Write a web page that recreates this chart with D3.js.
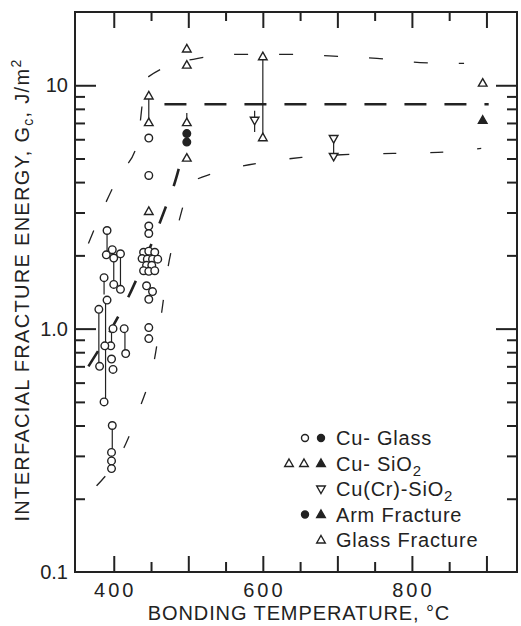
<!DOCTYPE html>
<html>
<head>
<meta charset="utf-8">
<script src="https://cdn.jsdelivr.net/npm/d3@7"></script>
<style>
  body { margin: 0; background: #fff; }
  svg { font-family: "Liberation Sans", Arial, sans-serif; fill: #222; }
</style>
</head>
<body>
<svg id="chart" width="521" height="626"></svg>
<script>
// values: [temperature C, Gc J/m2]
let cuGlassOpen = [
  [391,2.53],[398,2.11],[390,2.01],[400,1.95],[409,2.03],[387,1.62],[400,1.52],[409,1.45],
  [391,1.31],[380,1.20],[399,1.00],[414,1.00],[396,0.85],[388,0.85],[397,0.75],[381,0.70],
  [399,0.68],[416,0.79],[387,0.50],[398,0.40],[397,0.31],[397,0.286],[397,0.266],
  [447,6.07],[447,4.26],[447,2.64],[447,2.46],
  [440,2.06],[447,2.08],[455,2.06],[438,1.94],[445,1.93],[452,1.93],[459,1.93],
  [444,1.82],[451,1.82],[440,1.73],[447,1.72],[455,1.73],
  [444,1.50],[452,1.42],[447,1.32],[447,1.01],[447,0.91]
]
let cuGlassFilled = [[498,6.33],[498,5.84]]
let triOpen = [[447,9.04],[447,7.02],[447,3.03],[498,14.1],[498,12.1],[498,7.02],[498,5.02],
  [600,13.1],[600,6.09],[895,10.2]]
let triFilled = [[895,7.18]]
let triDown = [[589,7.18],[695,6.04],[695,5.10]]

// vertical range bars: [temperature, low, high]
let ranges = [[391,2.01,2.53],[400,1.52,1.95],[409,1.45,2.03],[387,1.38,1.62],[389,0.50,1.31],
  [380,0.70,1.20],[398,0.31,0.40],[397,0.85,1.0],[415,0.79,1.0],[447,7.02,9.04],
  [498,7.02,7.7],[589,6.43,7.85],[600,6.09,13.1],[695,5.10,6.04]]

// dashed bands
let upperBand = [[366,2.24],[384,3.03],[407,4.26],[431,5.66],[444,10.7],[513,12.9],[572,13.4],
  [630,13.4],[689,13.2],[753,12.9],[811,12.4],[870,12.3]]
let lowerBand = [[377,0.226],[416,0.336],[435,0.473],[455,0.76],[464,1.15],[472,1.73],[485,2.58],
  [506,3.99],[534,4.35],[591,4.77],[652,5.05],[717,5.2],[775,5.25],[835,5.3],[893,5.5]]
let meanRise = [[366,0.70],[423,1.42],[468,3.06],[484,4.18],[492,5.2]]
let meanFlat = [[468,8.35],[903,8.35]]

let xMajor = [400,500,600,700,800,900]
let xMinor = [450,550,650,750,850]
let xLabels = [400,600,800]
let yMajor = [1,10]
let yMinor = [0.2,0.3,0.4,0.5,0.6,0.7,0.8,0.9,2,3,4,5,6,7,8,9]
let yLabels = [[10,'10'],[1,'1.0'],[0.1,'0.1']]

let svg = d3.select('#chart')
let L = 75, R = 517, T = 12, B = 572

let x = d3.scaleLinear().domain([348,941]).range([L,R])
let y = d3.scaleLog().domain([0.1,20]).range([B,T])

let ink = '#222'

// ticks, all pointing inward
let tick = (g, axis) => { g.call(axis); g.select('.domain').remove(); g.selectAll('line').attr('stroke',ink).attr('stroke-width',2); g.selectAll('text').remove() }
svg.append('g').attr('transform',`translate(0,${B})`).call(tick, d3.axisBottom(x).tickValues(xMajor).tickSize(-16))
svg.append('g').attr('transform',`translate(0,${B})`).call(tick, d3.axisBottom(x).tickValues(xMinor).tickSize(-10))
svg.append('g').attr('transform',`translate(0,${T})`).call(tick, d3.axisTop(x).tickValues(xMajor).tickSize(-16))
svg.append('g').attr('transform',`translate(0,${T})`).call(tick, d3.axisTop(x).tickValues(xMinor).tickSize(-9))
svg.append('g').attr('transform',`translate(${L},0)`).call(tick, d3.axisLeft(y).tickValues(yMajor).tickSize(-21))
svg.append('g').attr('transform',`translate(${L},0)`).call(tick, d3.axisLeft(y).tickValues(yMinor).tickSize(-10))
svg.append('g').attr('transform',`translate(${R},0)`).call(tick, d3.axisRight(y).tickValues(yMajor).tickSize(-21))
svg.append('g').attr('transform',`translate(${R},0)`).call(tick, d3.axisRight(y).tickValues(yMinor).tickSize(-10))

svg.append('rect').attr('x',L).attr('y',T).attr('width',R-L).attr('height',B-T)
  .attr('fill','none').attr('stroke',ink).attr('stroke-width',2)

// tick labels
svg.selectAll('text.xl').data(xLabels).enter().append('text')
  .attr('x',d=>x(d)+1.5).attr('y',597).attr('text-anchor','middle').attr('font-size',20)
  .attr('letter-spacing',3).text(d=>d)
svg.selectAll('text.yl').data(yLabels).enter().append('text')
  .attr('x',68).attr('y',d=>y(d[0])+7).attr('text-anchor','end').attr('font-size',20).text(d=>d[1])

// axis titles
svg.append('text').attr('x',299).attr('y',620).attr('text-anchor','middle').attr('font-size',20)
  .attr('letter-spacing',0.9).text('BONDING TEMPERATURE, °C')
let yt = svg.append('text').attr('transform','translate(29,290) rotate(-90)').attr('text-anchor','middle')
  .attr('font-size',20).attr('letter-spacing',1.3)
yt.append('tspan').text('INTERFACIAL FRACTURE ENERGY, G')
yt.append('tspan').attr('font-size',14).attr('dy',4).text('c')
yt.append('tspan').attr('dy',-4).text(',  J/m')
yt.append('tspan').attr('font-size',14).attr('dy',-8).text('2')

// dashed bands
let line = d3.line().x(d=>x(d[0])).y(d=>y(d[1])).curve(d3.curveMonotoneX)
svg.append('path').attr('d',line(upperBand)).attr('fill','none').attr('stroke',ink).attr('stroke-width',1.3).attr('stroke-dasharray','14,31')
svg.append('path').attr('d',line(lowerBand)).attr('fill','none').attr('stroke',ink).attr('stroke-width',1.3).attr('stroke-dasharray','13,34')
svg.append('path').attr('d',line(meanRise)).attr('fill','none').attr('stroke',ink).attr('stroke-width',2.6).attr('stroke-dasharray','18,22')
svg.append('path').attr('d',line(meanFlat)).attr('fill','none').attr('stroke',ink).attr('stroke-width',2.6).attr('stroke-dasharray','22,18')

// range bars
svg.selectAll('line.rng').data(ranges).enter().append('line')
  .attr('x1',d=>x(d[0])).attr('x2',d=>x(d[0])).attr('y1',d=>y(d[1])).attr('y2',d=>y(d[2]))
  .attr('stroke',ink).attr('stroke-width',1.2)

let up = 'M0,-4.5L4.3,3L-4.3,3Z', down = 'M0,4.5L4.3,-3L-4.3,-3Z'
let mark = (data, kind, filled) => {
  let sel = svg.selectAll(null).data(data).enter()
  let m = kind === 'c' ? sel.append('circle').attr('r',3.8).attr('cx',d=>x(d[0])).attr('cy',d=>y(d[1]))
    : sel.append('path').attr('d',kind === 'u' ? up : down).attr('transform',d=>`translate(${x(d[0])},${y(d[1])})`)
  m.attr('fill',filled ? ink : '#fff').attr('stroke',ink).attr('stroke-width',1.4)
}
mark(cuGlassOpen,'c',false)
mark(cuGlassFilled,'c',true)
mark(triOpen,'u',false)
mark(triFilled,'u',true)
mark(triDown,'d',false)

// legend
let legRows = [
  {label:['Cu- Glass'], marks:[[305,'c',false],[321,'c',true]]},
  {label:['Cu- SiO','2'], marks:[[289,'u',false],[304,'u',false],[321,'u',true]]},
  {label:['Cu(Cr)-SiO','2'], marks:[[321,'d',false]]},
  {label:['Arm Fracture'], marks:[[305,'c',true],[321,'u',true]]},
  {label:['Glass Fracture'], marks:[[321,'u',false]]}
]
legRows.forEach((r,i)=>{
  let by = 445 + i*25.5
  let t = svg.append('text').attr('x',336).attr('y',by).attr('font-size',20).attr('letter-spacing',0.8)
  t.append('tspan').text(r.label[0])
  if (r.label[1]) t.append('tspan').attr('font-size',15).attr('dy',5).text(r.label[1])
  r.marks.forEach(m=>{
    let s = m[1] === 'c' ? svg.append('circle').attr('cx',m[0]).attr('cy',by-7).attr('r',3.5)
      : svg.append('path').attr('d',m[1] === 'u' ? up : down).attr('transform',`translate(${m[0]},${by-7})`)
    s.attr('fill',m[2] ? ink : '#fff').attr('stroke',ink).attr('stroke-width',1.4)
  })
})
</script>
</body>
</html>
